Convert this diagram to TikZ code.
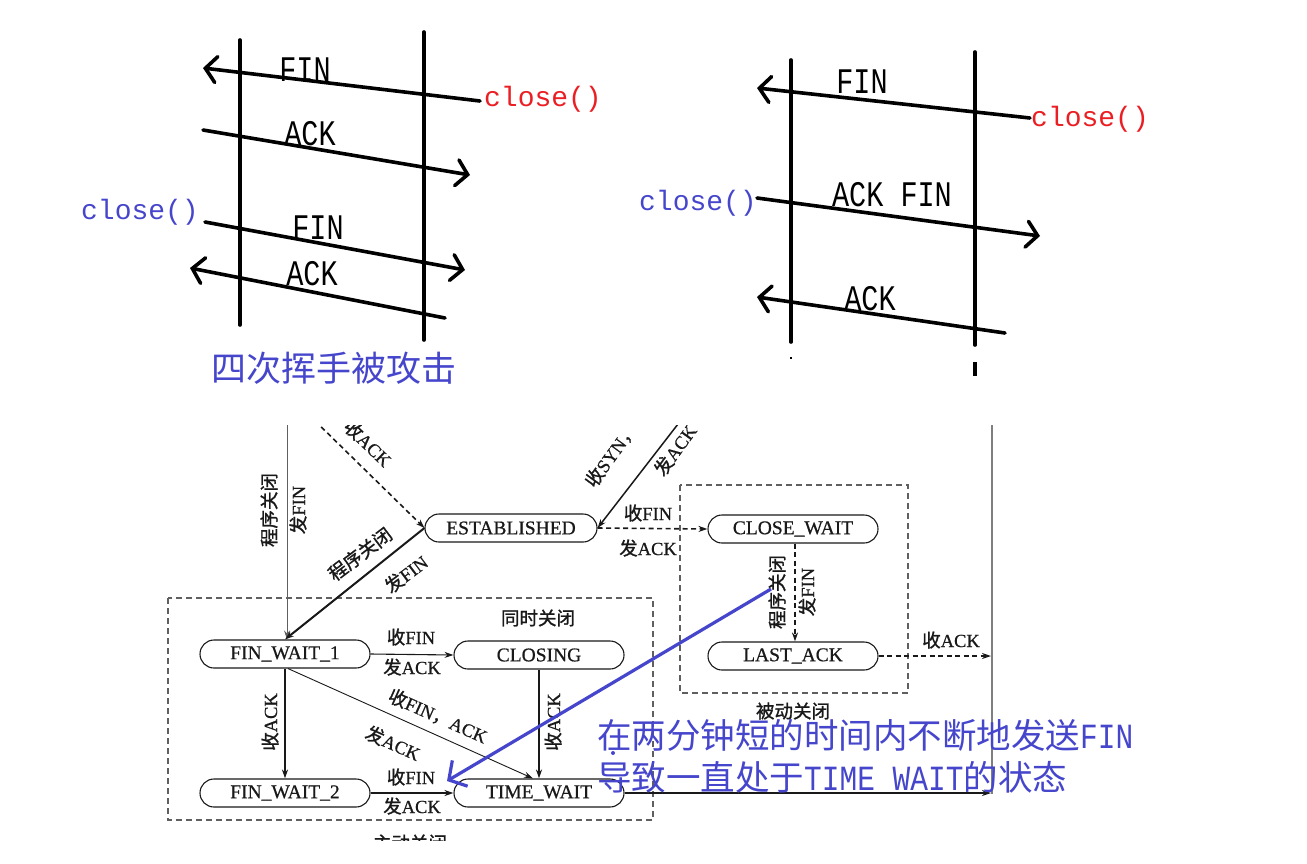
\documentclass[tikz,border=0pt]{standalone}
\usepackage{fontspec}
\setmainfont{Liberation Serif}
\newfontfamily\serifb[FakeBold=0.6]{Liberation Serif}
\newfontfamily\cjk{Noto Sans CJK SC}
\newfontfamily\cjkb[FakeBold=1.2]{Noto Sans CJK SC}
\newfontfamily\mono{Liberation Mono}
\usetikzlibrary{arrows.meta}
\definecolor{rd}{RGB}{235,30,35}
\definecolor{bl}{RGB}{70,70,205}
\definecolor{dk}{RGB}{25,25,25}
\definecolor{gr}{RGB}{95,95,95}
\newcommand\zhc[1]{{\cjkb #1}}
\newcommand\tallt[1]{\scalebox{0.95}[1.2]{#1}}
\tikzset{
  life/.style={line width=3.6pt, line cap=round},
  seqarrow/.style={line width=3.6pt, line cap=round, -{Straight Barb[length=11pt,width=26pt,line cap=round]}},
  msg/.style={font=\mono\fontsize{30}{30}\selectfont, inner sep=0pt},
  callred/.style={font=\mono\fontsize{28}{28}\selectfont, text=rd, inner sep=0pt},
  callblue/.style={font=\mono\fontsize{28}{28}\selectfont, text=bl, inner sep=0pt},
  st/.style={draw=dk, line width=1.1pt, rounded corners=14pt, minimum width=170pt, minimum height=28pt, font=\serifb\fontsize{19.5}{19.5}\selectfont, inner sep=0pt, text=dk},
  lbl/.style={font=\serifb\fontsize{18.5}{18.5}\selectfont, inner sep=0pt, text=dk},
  tipb/.style={-{Stealth[length=9pt,width=6pt]}},
  dsh/.style={dash pattern=on 5pt off 3.5pt},
  grp/.style={draw=gr, line width=1.1pt, dash pattern=on 6pt off 4pt},
  note/.style={font=\cjk\fontsize{34.5}{34.5}\selectfont, text=bl, inner sep=0pt, anchor=west},
}
\newcommand\notelat[1]{{\mono\fontsize{29.5}{30}\selectfont\scalebox{1}[1.2]{#1}}}
\begin{document}
\begin{tikzpicture}[x=1pt,y=-1pt]
\fill[white] (0,0) rectangle (1307,863);
\useasboundingbox (0,0) rectangle (1307,863);

% ---------------- top-left sequence ----------------
\draw[life] (240,40) -- (240,325);
\draw[life] (424,32) -- (424,340);
\coordinate (a1s) at (480,101); \coordinate (a1e) at (203,68);
\coordinate (a2s) at (203,130); \coordinate (a2e) at (470,175);
\coordinate (a3s) at (205,222); \coordinate (a3e) at (465,270);
\coordinate (a4s) at (445,318); \coordinate (a4e) at (190,268);
\draw[seqarrow] (a1s) -- (a1e);
\draw[seqarrow] (a2s) -- (a2e);
\draw[seqarrow] (a3s) -- (a3e);
\draw[seqarrow] (a4s) -- (a4e);
\node[msg] (lfin1) at (305,70) {\tallt{FIN}};
\node[msg] (lack1) at (310,134) {\tallt{ACK}};
\node[msg] (lfin2) at (318,228) {\tallt{FIN}};
\node[msg] (lack2) at (312,274) {\tallt{ACK}};
\node[callred] (lcr) at (543,99) {close()};
\node[callblue] (lcb) at (140,212) {close()};
\node[font=\cjk\fontsize{35}{35}\selectfont, text=bl, inner sep=0pt] (title) at (334,368) {四次挥手被攻击};

% ---------------- top-right sequence ----------------
\draw[life] (791,60) -- (791,342);
\draw[life] (975,52) -- (975,345);
\draw[line width=2pt] (791,357) -- (791,359);
\draw[line width=3.6pt] (975,362) -- (975,376);
\coordinate (b1s) at (1030,118); \coordinate (b1e) at (757,88);
\coordinate (b2s) at (757,198); \coordinate (b2e) at (1040,236);
\coordinate (b3s) at (1005,333); \coordinate (b3e) at (757,297);
\draw[seqarrow] (b1s) -- (b1e);
\draw[seqarrow] (b2s) -- (b2e);
\draw[seqarrow] (b3s) -- (b3e);
\node[msg] (rfin) at (862,82) {\tallt{FIN}};
\node[msg] (rackfin) at (892,195) {\tallt{ACK FIN}};
\node[msg] (rack) at (870,299) {\tallt{ACK}};
\node[callred] (rcr) at (1090,119) {close()};
\node[callblue] (rcb) at (698,203) {close()};

% ---------------- bottom state diagram ----------------
\begin{scope}
\clip (165,425) rectangle (1000,840);
\node[st, minimum width=172pt] (est) at (511,528) {ESTABLISHED};
\node[st] (cw) at (793,529) {CLOSE\_WAIT};
\node[st] (la) at (793,656) {LAST\_ACK};
\node[st] (fw1) at (285,654) {FIN\_WAIT\_1};
\node[st] (cl) at (539,655) {CLOSING};
\node[st] (fw2) at (285,793) {FIN\_WAIT\_2};
\node[st] (tw) at (539,793) {TIME\_WAIT};

\coordinate (topA) at (287,415);
\coordinate (topB) at (309,415);
\coordinate (topC) at (685,415);
\coordinate (rtop) at (992,415);
\coordinate (rla) at (991,656);
\coordinate (rtw) at (991,793);

\draw[grp] (168,598) rectangle (653,820);
\draw[grp] (680,485) rectangle (908,693);

\draw[gr, line width=0.9pt, tipb] (topA) -- (topA |- fw1.north);
\draw[dk, line width=1.6pt, dsh, tipb] (topB) -- (est.west);
\draw[dk, line width=2pt, tipb] (est.west) -- (fw1.north);
\draw[dk, line width=1.5pt, tipb] (topC) -- (est.east);
\draw[dk, line width=1.6pt, dsh, tipb] (est.east) -- (cw.west);
\draw[dk, line width=1.5pt, dsh, tipb] ([xshift=2pt]cw.south) -- ([xshift=2pt]la.north);
\draw[dk, line width=1.6pt, dsh, tipb] (la.east) -- (rla);
\draw[gr!80, line width=1.6pt] (rtop) -- ([yshift=-1pt]rtw -| rtop);
\draw[dk, line width=1.1pt, tipb] (fw1.east) -- (cl.west);
\draw[dk, line width=1.6pt, tipb] (fw1.south) -- (fw2.north);
\draw[dk, line width=1.3pt, tipb] (cl.south) -- (cl.south |- tw.north);
\draw[dk, line width=0.9pt, tipb] ([xshift=3pt]fw1.south) -- ([xshift=-6pt]tw.north);
\draw[dk, line width=2pt, tipb] (fw2.east) -- (tw.west);
\draw[dk, line width=2pt, tipb] (tw.east) -- (rtw);

\node[lbl, rotate=-44] (l1) at (368,443) {\zhc{收}ACK};
\node[lbl, rotate=90] (l2) at (269,510) {\zhc{程序关闭}};
\node[lbl, rotate=90] (l3) at (298,510) {\zhc{发}FIN};
\node[lbl, rotate=37] (l4) at (360,554) {\zhc{程序关闭}};
\node[lbl, rotate=37] (l5) at (406,574) {\zhc{发}FIN};
\node[lbl, rotate=54] (l6) at (611,455) {\zhc{收}SYN\zhc{，}};
\node[lbl, rotate=54] (l7) at (675,450) {\zhc{发}ACK};
\node[lbl] (l8) at (648,513) {\zhc{收}FIN};
\node[lbl] (l9) at (648,548) {\zhc{发}ACK};
\node[lbl, rotate=90] (l10) at (777,592) {\zhc{程序关闭}};
\node[lbl, rotate=90] (l11) at (807,592) {\zhc{发}FIN};
\node[lbl] (l12) at (951,640) {\zhc{收}ACK};
\node[lbl] (l13) at (793,711) {\zhc{被动关闭}};
\node[lbl] (l14) at (538,618) {\zhc{同时关闭}};
\node[lbl] (l15) at (411,637) {\zhc{收}FIN};
\node[lbl] (l16) at (412,667) {\zhc{发}ACK};
\node[lbl, rotate=90] (l17) at (270,722) {\zhc{收}ACK};
\node[lbl, rotate=90] (l18) at (553,722) {\zhc{收}ACK};
\node[lbl, rotate=-24] (l19) at (438,716) {\zhc{收}FIN\zhc{，}ACK};
\node[lbl, rotate=-24] (l20) at (393,743) {\zhc{发}ACK};
\node[lbl] (l21) at (411,777) {\zhc{收}FIN};
\node[lbl] (l22) at (412,806) {\zhc{发}ACK};
\node[lbl] (l23) at (410,843) {\zhc{主动关闭}};
\end{scope}

% ---------------- blue annotation ----------------
\coordinate (bs) at (771,589);
\coordinate (be) at (447,781);
\draw[bl, line width=3.2pt, -{Straight Barb[length=13pt,width=30pt]}] (bs) -- (be);
\fill[bl] (613,753) circle (2pt);
\node[note] (n1) at (597,735) {在两分钟短的时间内不断地发送\notelat{FIN}};
\node[note] (n2) at (597,777) {导致一直处于\notelat{TIME WAIT}的状态};
\end{tikzpicture}
\end{document}
